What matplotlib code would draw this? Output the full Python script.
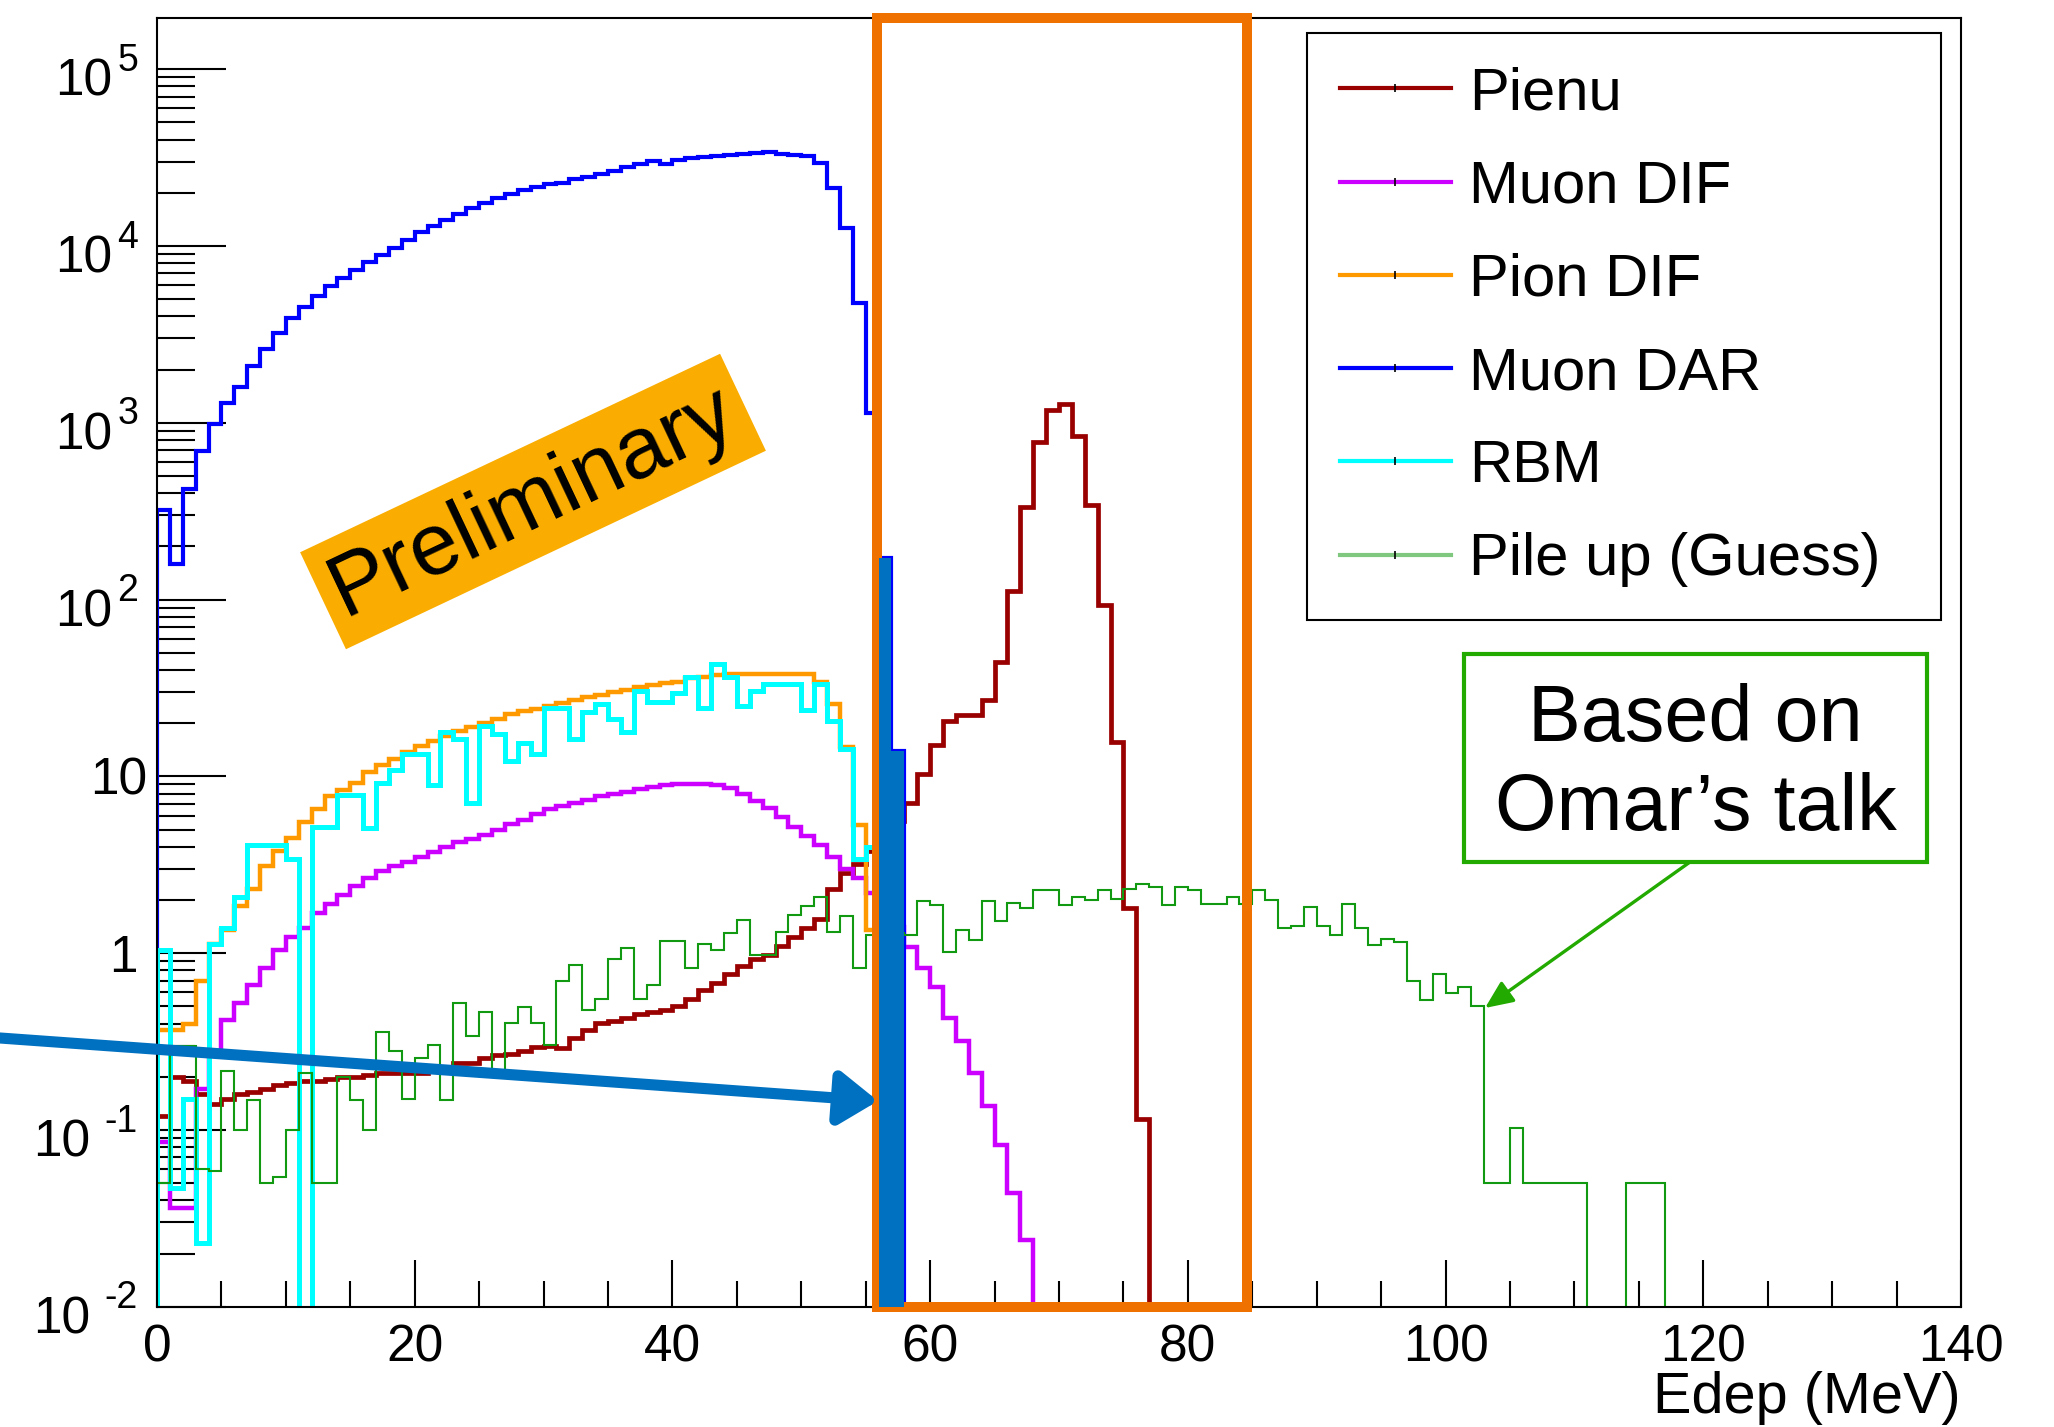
import numpy as np
import matplotlib.pyplot as plt
import matplotlib.transforms as mtransforms
from matplotlib.patches import Rectangle
from matplotlib.lines import Line2D
from matplotlib.ticker import MultipleLocator, LogLocator, NullFormatter

plt.rcParams['font.family'] = ['Liberation Sans', 'DejaVu Sans']

# 1 MeV bins from 0 to 140 MeV
edges = np.arange(0, 141)

# bin contents, starting at 0 MeV (bins not listed are empty)
pienu = [0.12, 0.2, 0.19, 0.16, 0.14, 0.15, 0.16, 0.165, 0.17, 0.18,
         0.185, 0.19, 0.19, 0.195, 0.2, 0.2, 0.205, 0.21, 0.21, 0.21,
         0.21, 0.22, 0.22, 0.24, 0.24, 0.256, 0.265, 0.27, 0.28, 0.295,
         0.30, 0.29, 0.33, 0.37, 0.405, 0.415, 0.43, 0.454, 0.465, 0.48,
         0.50, 0.55, 0.62, 0.68, 0.76, 0.85, 0.93, 0.98, 1.10, 1.24,
         1.39, 1.56, 2.32, 2.84, 3.2, 3.8, 4.6, 5.6, 7.1, 10.3,
         15.1, 20.6, 22.2, 22.2, 26.9, 44.6, 112, 332, 776, 1186,
         1282, 839, 344, 92.7, 15.7, 1.8, 0.116]

muon_dif = [0.086, 0.036, 0.036, 0.17, 0.28, 0.42, 0.52, 0.66, 0.83, 1.04,
            1.24, 1.39, 1.69, 1.9, 2.13, 2.39, 2.68, 2.92, 3.1, 3.3,
            3.5, 3.75, 4.0, 4.25, 4.45, 4.65, 5.0, 5.35, 5.7, 6.1,
            6.5, 6.8, 7.1, 7.4, 7.7, 7.95, 8.2, 8.45, 8.7, 8.9,
            9.0, 9.1, 9.1, 8.9, 8.6, 7.9, 7.3, 6.6, 5.9, 5.2,
            4.6, 4.1, 3.5, 3.0, 2.65, 2.2, 1.75, 1.4, 1.09, 0.83,
            0.64, 0.43, 0.32, 0.21, 0.136, 0.082, 0.044, 0.024]

pion_dif = [0.37, 0.37, 0.40, 0.70, 1.13, 1.35, 1.85, 2.3, 3.1, 3.8,
            4.5, 5.5, 6.5, 7.7, 8.4, 9.2, 10.6, 11.6, 12.6, 13.7,
            14.8, 15.9, 17.0, 18.0, 19.0, 20.0, 21.2, 22.4, 23.4, 24.2,
            25.0, 26.0, 27.0, 28.0, 29.0, 30.0, 31.0, 32.0, 33.0, 33.8,
            34.4, 36.0, 36.5, 37.5, 38.0, 38.0, 38.0, 38.0, 38.0, 38.0,
            38.0, 34.4, 25.8, 14.6, 5.3, 1.35, 0.3]

muon_dar = [320, 160, 420, 690, 990, 1290, 1600, 2100, 2600, 3200,
            3900, 4500, 5200, 5900, 6600, 7300, 8100, 8900, 9800, 10800,
            12000, 13000, 14000, 15200, 16400, 17600, 18800, 19800, 20600, 21500,
            22300, 22800, 23800, 24700, 25500, 26500, 27800, 29000, 30400, 29200,
            30600, 31300, 31800, 32200, 32800, 33200, 33500, 34200, 33300, 32900,
            32200, 29400, 21200, 12600, 4740, 1130, 172, 14]

rbm = [1.04, 0.047, 0.15, 0.023, 1.13, 1.39, 2.07, 4.1, 4.1, 4.1,
       3.4, 0, 5.2, 5.2, 7.8, 7.8, 5.1, 9.2, 10.8, 13.3,
       13.4, 8.9, 17.8, 16.3, 7.1, 19.4, 17.3, 12.2, 15.4, 13.4,
       24.4, 24.4, 16.3, 23.0, 25.8, 21.1, 17.8, 30.6, 26.5, 26.5,
       29.8, 36.4, 24.4, 43.2, 36.4, 25.1, 30.6, 33.4, 33.4, 33.4,
       23.7, 33.4, 20.5, 14.2, 3.4, 4.0]

pileup = [0.05, 0.3, 0.3, 0.06, 0.059, 0.215, 0.10, 0.148, 0.05, 0.054,
          0.10, 0.21, 0.05, 0.05, 0.2, 0.148, 0.10, 0.36, 0.28, 0.15,
          0.256, 0.304, 0.148, 0.523, 0.34, 0.467, 0.2, 0.405, 0.494, 0.405,
          0.304, 0.697, 0.852, 0.48, 0.554, 0.929, 1.07, 0.554, 0.658, 1.17,
          1.17, 0.83, 1.13, 1.04, 1.3, 1.55, 0.98, 0.98, 1.31, 1.65,
          1.85, 2.07, 1.31, 1.62, 0.83, 1.27, 1.2, 1.3, 1.27, 1.98,
          1.87, 1.01, 1.35, 1.18, 1.98, 1.52, 1.92, 1.80, 2.27, 2.27,
          1.87, 2.07, 2.0, 2.27, 2.03, 2.31, 2.46, 2.36, 1.87, 2.36,
          2.28, 1.91, 1.91, 2.07, 1.91, 2.28, 2.0, 1.38, 1.43, 1.83,
          1.43, 1.27, 1.91, 1.38, 1.11, 1.20, 1.16, 0.70, 0.543, 0.763,
          0.598, 0.646, 0.50, 0.05, 0.05, 0.102, 0.05, 0.05, 0.05, 0.05,
          0.05, 0, 0, 0, 0.05, 0.05, 0.05]

labels = ['Pienu', 'Muon DIF', 'Pion DIF', 'Muon DAR', 'RBM', 'Pile up (Guess)']
series = [pienu, muon_dif, pion_dif, muon_dar, rbm, pileup]
colors = ['#990000', '#CC00FF', '#FF9900', '#0000FF', '#00FFFF', '#119911']
legend_colors = ['#990000', '#CC00FF', '#FF9900', '#0000FF', '#00FFFF', '#80C880']
widths = [3.4, 3.2, 3.2, 3.0, 3.6, 1.5]


def full(v):
    h = np.zeros(len(edges) - 1)
    h[:len(v)] = v
    return h


fig = plt.figure(figsize=(20.54, 14.27), dpi=100)
ax = fig.add_axes([0.07644, 0.08423, 0.87829, 0.9035])
ax.set_yscale('log')

for i, (vals, c, lw) in enumerate(zip(series, colors, widths)):
    h = full(vals)
    # empty bins go to the bottom of the frame, like ROOT does
    ax.stairs(np.where(h > 0, h, 1e-6), edges, baseline=1e-6, color=c, lw=lw, zorder=2 + i * 0.1)

ax.set_xlim(0, 140)
ax.set_ylim(0.01, 1.96e5)

# ticks in ROOT style
ax.xaxis.set_major_locator(MultipleLocator(20))
ax.xaxis.set_minor_locator(MultipleLocator(5))
ax.yaxis.set_major_locator(LogLocator(base=10, numticks=20))
ax.yaxis.set_minor_locator(LogLocator(base=10, subs=np.arange(2, 10), numticks=20))
ax.yaxis.set_major_formatter(NullFormatter())
ax.yaxis.set_minor_formatter(NullFormatter())
ax.tick_params(axis='both', which='both', direction='in', top=False, right=False, width=1.5, color='black')
ax.tick_params(axis='x', which='major', length=34, pad=12, labelsize=37)
ax.tick_params(axis='x', which='minor', length=19)
ax.tick_params(axis='y', which='major', length=50)
ax.tick_params(axis='y', which='minor', length=27)
for s in ax.spines.values():
    s.set_linewidth(1.5)

# y tick labels: 1, 10 and 10^n
ytrans = mtransforms.blended_transform_factory(ax.transAxes, ax.transData)
sup_size = 27
for e in range(-2, 6):
    v = 10.0 ** e
    if e in (0, 1):
        dx = -14 if e == 0 else -7
        ax.annotate(str(int(v)), xy=(0, v), xycoords=ytrans, xytext=(dx, -3.6),
                    textcoords='offset points', ha='right', va='center', fontsize=37)
    else:
        sup = str(e)
        ax.annotate(sup, xy=(0, v), xycoords=ytrans, xytext=(-13.7, 6),
                    textcoords='offset points', ha='right', va='center', fontsize=sup_size)
        w = sum(0.584 if ch == '-' else 0.556 for ch in sup) * sup_size
        ax.annotate('10', xy=(0, v), xycoords=ytrans, xytext=(-13.7 - w - 3.6, -9.3),
                    textcoords='offset points', ha='right', va='center', fontsize=37)

ax.text(1.0, -0.05, 'Edep (MeV)', transform=ax.transAxes, ha='right', va='top', fontsize=41.5)

# legend
handles = [Line2D([], [], color=c, lw=3, marker='|', ms=6, mec='black', mew=1.2)
           for c in legend_colors]
leg = ax.legend(handles, labels, loc='upper left', bbox_to_anchor=(0.6375, 0.5, 0.3514, 0.4876),
                mode='expand', fontsize=43, frameon=True, fancybox=False, framealpha=1,
                edgecolor='black', borderpad=0.55, handlelength=1.86, handletextpad=0.3,
                labelspacing=0.64, borderaxespad=0)
leg.get_frame().set_linewidth(1.5)
leg.set_zorder(10)

# highlighted region and the Muon DAR tail
xtrans = mtransforms.blended_transform_factory(ax.transData, ax.transAxes)
ax.add_patch(Rectangle((55.9, 0), 84.6 - 55.9, 1, transform=xtrans, fill=False,
                       ec='#EF7100', lw=7.2, clip_on=False, zorder=6))
ax.bar(edges[56:58], muon_dar[56:58], width=1, align='edge', color='#0070C0', zorder=7)

ax.annotate('', xy=(878 / 2054, 1 - 1101 / 1427), xytext=(0, 1 - 1038 / 1427),
            xycoords='figure fraction', textcoords='figure fraction',
            arrowprops=dict(arrowstyle='-|>,head_length=23,head_width=16', color='#0070C0',
                            lw=8, shrinkA=0, shrinkB=0, mutation_scale=1), zorder=8)

# Preliminary stamp
fig.text(533 / 2054, 1 - 501.5 / 1427, 'Preliminary', rotation=25.3, rotation_mode='anchor',
         ha='center', va='center', fontsize=63, color='black',
         bbox=dict(boxstyle='square,pad=0.15', fc='#FAAD00', ec='none'))

# note on the pile-up curve
fig.add_artist(Rectangle((1464 / 2054, 1 - 862 / 1427), 463 / 2054, 208 / 1427,
                         transform=fig.transFigure, fc='white', ec='#22AA00', lw=3))
fig.text(1695.5 / 2054, 1 - 765 / 1427, 'Based on\nOmar\u2019s talk', ha='center', va='center',
         fontsize=57, linespacing=1.25, color='black')
ax.annotate('', xy=(1485 / 2054, 1 - 1008 / 1427), xytext=(1690 / 2054, 1 - 862 / 1427),
            xycoords='figure fraction', textcoords='figure fraction',
            arrowprops=dict(arrowstyle='-|>,head_length=17,head_width=7.5', color='#22AA00',
                            lw=2.4, shrinkA=0, shrinkB=0, mutation_scale=1), zorder=8)

fig.savefig('out.png', dpi=100, facecolor='white')
